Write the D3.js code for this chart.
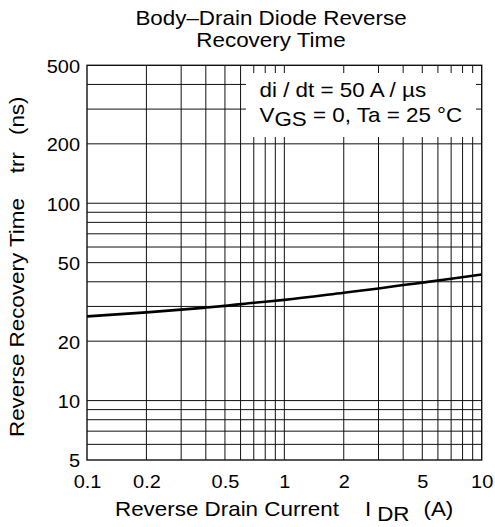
<!DOCTYPE html>
<html>
<head>
<meta charset="utf-8">
<script src="https://cdn.jsdelivr.net/npm/d3@7/dist/d3.min.js"></script>
<style>
  body { margin: 0; background: #fff; }
  text { font-family: "Liberation Sans", Arial, Helvetica, sans-serif; fill: #000; }
</style>
</head>
<body>
<svg id="chart" width="495" height="527"></svg>
<script>
// Reverse recovery time vs. reverse drain current
const currentA = [0.1, 0.2, 0.3, 0.4, 0.5, 0.7, 1, 2, 3, 4, 5, 7, 10];
const trrNs    = [26.7, 28.0, 28.9, 29.6, 30.2, 31.3, 32.4, 35.2, 37.0, 38.5, 39.6, 41.4, 43.5];

const xTickValues = [0.1, 0.2, 0.5, 1, 2, 5, 10];
const xTickLabels = ["0.1", "0.2", "0.5", "1", "2", "5", "10"];
const yTickValues = [5, 10, 20, 50, 100, 200, 500];
const yTickLabels = ["5", "10", "20", "50", "100", "200", "500"];

const xGridValues = [0.2, 0.3, 0.4, 0.5, 0.6, 0.7, 0.8, 0.9, 1, 2, 3, 4, 5, 6, 7, 8, 9];
const yGridValues = [6, 7, 8, 9, 10, 20, 30, 40, 50, 60, 70, 80, 90, 100, 200, 300, 400];

const titleLines = ["Body\u2013Drain Diode Reverse", "Recovery Time"];
const conditionLine1 = "di / dt = 50 A / \u00b5s";

const svg = d3.select("#chart");
const plotL = 87, plotR = 481.7, plotT = 65.3, plotB = 460;
const SX = 1.12;      // horizontal stretch of the lettering
const TICK_SX = 1.05; // stretch of the tick numbers

const x = d3.scaleLog().domain([0.1, 10]).range([plotL, plotR]);
const y = d3.scaleLog().domain([5, 500]).range([plotB, plotT]);

function label(px, py, size, rotate, anchor) {
  const g = svg.append("g")
    .attr("transform", `translate(${px},${py})` + (rotate ? " rotate(-90)" : "") + ` scale(${SX},1)`);
  return g.append("text")
    .attr("font-size", size)
    .attr("text-anchor", anchor || "start");
}

// grid
const grid = svg.append("g").attr("stroke", "#111").attr("stroke-width", 1).attr("fill", "none");
grid.selectAll("line.v").data(xGridValues).join("line").attr("class", "v")
  .attr("x1", d => x(d)).attr("x2", d => x(d)).attr("y1", plotT).attr("y2", plotB);
grid.selectAll("line.h").data(yGridValues).join("line").attr("class", "h")
  .attr("x1", plotL).attr("x2", plotR).attr("y1", d => y(d)).attr("y2", d => y(d));

// condition box masks the grid
svg.append("rect").attr("x", 246).attr("y", 73).attr("width", 230).attr("height", 64).attr("fill", "#fff");

// frame
svg.append("rect").attr("x", plotL).attr("y", plotT).attr("width", plotR - plotL).attr("height", plotB - plotT)
  .attr("fill", "none").attr("stroke", "#111").attr("stroke-width", 1.4);

// curve
const line = d3.line().x(d => x(d[0])).y(d => y(d[1])).curve(d3.curveMonotoneX);
svg.append("path").datum(currentA.map((c, i) => [c, trrNs[i]]))
  .attr("d", line).attr("fill", "none").attr("stroke", "#000").attr("stroke-width", 2.6);

// axes tick labels
const xAxis = d3.axisBottom(x).tickValues(xTickValues)
  .tickFormat((d, i) => xTickLabels[i]).tickSize(0).tickPadding(0);
const xg = svg.append("g").attr("transform", `translate(0,${plotB})`).call(xAxis);
xg.select(".domain").remove();
xg.selectAll(".tick text").attr("font-size", 19).attr("dy", null).attr("y", 28)
  .attr("transform", `scale(${TICK_SX},1)`).attr("fill", "#000");
xg.attr("font-family", null);

const yAxis = d3.axisLeft(y).tickValues(yTickValues)
  .tickFormat((d, i) => yTickLabels[i]).tickSize(0).tickPadding(0);
const yg = svg.append("g").attr("transform", `translate(${plotL - 7},0)`).call(yAxis);
yg.select(".domain").remove();
yg.selectAll(".tick text").attr("font-size", 19).attr("x", 0).attr("dy", "0.36em")
  .attr("transform", `scale(${TICK_SX},1)`).attr("fill", "#000");
yg.attr("font-family", null);

// title
titleLines.forEach((t, i) => {
  label(271, 25 + i * 22, 20, false, "middle").text(t);
});

// conditions
label(259.5, 97, 20).text(conditionLine1);
const c2 = label(259.5, 122, 20);
c2.append("tspan").text("V");
c2.append("tspan").attr("dy", 4).text("GS");
c2.append("tspan").attr("dy", -4).text(" = 0, Ta = 25 \u00b0C");

// x-axis title
const xt = label(115, 516, 20);
xt.append("tspan").text("Reverse Drain Current");
xt.append("tspan").attr("dx", 26 / SX).text("I");
xt.append("tspan").attr("dx", 6 / SX).attr("dy", 5).text("DR");
xt.append("tspan").attr("dx", 14 / SX).attr("dy", -5).text("(A)");

// y-axis title
const yt = label(23.5, 437, 20, true);
yt.append("tspan").text("Reverse Recovery Time");
yt.append("tspan").attr("dx", 25 / SX).text("trr");
yt.append("tspan").attr("dx", 17 / SX).text("(ns)");
</script>
</body>
</html>
